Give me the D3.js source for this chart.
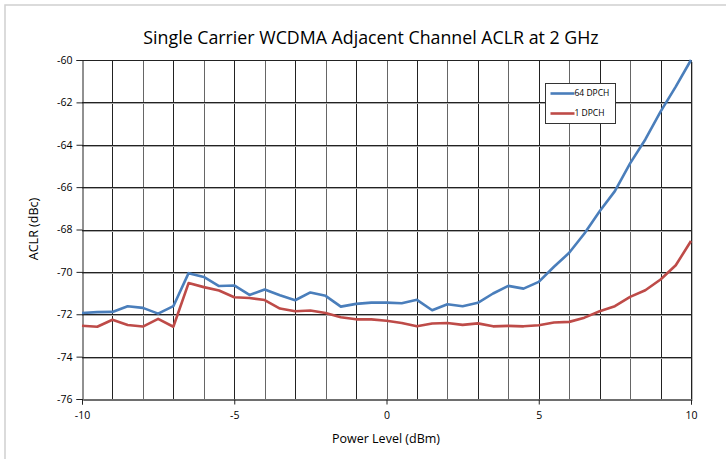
<!DOCTYPE html>
<html>
<head>
<meta charset="utf-8">
<script src="https://cdn.jsdelivr.net/npm/d3@7"></script>
<style>
  body { margin: 0; background: #fff; }
  text { font-family: "Open Sans", "Noto Sans", sans-serif; fill: #000; }
</style>
</head>
<body>
<svg id="chart"></svg>
<script>
// ACLR vs power level
var power = [-10, -9.5, -9, -8.5, -8, -7.5, -7, -6.5, -6, -5.5, -5, -4.5, -4, -3.5, -3, -2.5, -2, -1.5, -1, -0.5,
  0, 0.5, 1, 1.5, 2, 2.5, 3, 3.5, 4, 4.5, 5, 5.5, 6, 6.5, 7, 7.5, 8, 8.5, 9, 9.5, 10];
var dpch64 = [-71.94, -71.9, -71.89, -71.62, -71.7, -71.97, -71.62, -70.06, -70.24, -70.67, -70.64, -71.09, -70.83, -71.1, -71.34, -70.97, -71.13, -71.64, -71.51, -71.45,
  -71.45, -71.48, -71.32, -71.81, -71.53, -71.62, -71.46, -71.02, -70.66, -70.79, -70.47, -69.76, -69.1, -68.19, -67.14, -66.19, -64.88, -63.75, -62.44, -61.26, -60.0];
var dpch1 = [-72.54, -72.59, -72.26, -72.51, -72.58, -72.22, -72.59, -70.53, -70.72, -70.88, -71.2, -71.23, -71.33, -71.73, -71.86, -71.82, -71.94, -72.14, -72.24, -72.24,
  -72.31, -72.41, -72.57, -72.44, -72.41, -72.5, -72.43, -72.57, -72.55, -72.57, -72.52, -72.39, -72.36, -72.16, -71.86, -71.62, -71.18, -70.87, -70.36, -69.69, -68.54];
var series = [
  {name: "64 DPCH", values: dpch64, color: "#4a7ebb"},
  {name: "1 DPCH", values: dpch1, color: "#be4b48"}
];
var xTicks = [-10, -5, 0, 5, 10];
var yTicks = [-76, -74, -72, -70, -68, -66, -64, -62, -60];

var W = 726, H = 459;
var pL = 82, pR = 691, pT = 60, pB = 399;

var svg = d3.select("#chart").attr("width", W).attr("height", H);

// outer chart border (only top and left edges fall inside the picture)
svg.append("rect").attr("x", 5).attr("y", 5).attr("width", 740).attr("height", 470)
  .attr("fill", "#fff").attr("stroke", "#d0d0d0").attr("stroke-width", 1.5);

var x = d3.scaleLinear().domain([-10, 10]).range([pL, pR]);
var y = d3.scaleLinear().domain([-76, -60]).range([pB, pT]);

// plot area shadow
svg.append("rect").attr("x", pL + 2).attr("y", pT + 2).attr("width", pR - pL).attr("height", pB - pT)
  .attr("fill", "#bbb");
svg.append("rect").attr("x", pL).attr("y", pT).attr("width", pR - pL).attr("height", pB - pT)
  .attr("fill", "#fff");

// grid
var g = svg.append("g");
g.selectAll(".vg").data(d3.range(-9, 10)).enter().append("line")
  .attr("x1", function(d) { return Math.round(x(d)) + 0.5; })
  .attr("x2", function(d) { return Math.round(x(d)) + 0.5; })
  .attr("y1", pT).attr("y2", pB)
  .attr("stroke", function(d, i) { return i % 2 ? "#666" : "#222"; });
g.selectAll(".hg").data(yTicks.slice(1, -1)).enter().append("line")
  .attr("x1", pL).attr("x2", pR)
  .attr("y1", function(d) { return Math.round(y(d)) + 1.5; })
  .attr("y2", function(d) { return Math.round(y(d)) + 1.5; })
  .attr("stroke", "#aaa");
g.selectAll(".hg2").data(yTicks.slice(1, -1)).enter().append("line")
  .attr("x1", pL).attr("x2", pR)
  .attr("y1", function(d) { return Math.round(y(d)) + 0.5; })
  .attr("y2", function(d) { return Math.round(y(d)) + 0.5; })
  .attr("stroke", "#222");

// top and right frame
svg.append("line").attr("x1", pL).attr("x2", pR).attr("y1", pT + 0.5).attr("y2", pT + 0.5).attr("stroke", "#222");
svg.append("line").attr("x1", pR + 0.5).attr("x2", pR + 0.5).attr("y1", pT).attr("y2", pB).attr("stroke", "#222");

// axes
var fmt = function(d) { return String(d); };
var yAxis = d3.axisLeft(y).tickValues(yTicks).tickSize(6).tickPadding(4).tickFormat(fmt);
var xAxis = d3.axisBottom(x).tickValues(xTicks).tickSize(5).tickPadding(7).tickFormat(fmt);

var ya = svg.append("g").attr("transform", "translate(" + (pL + 0.5) + ",0)").call(yAxis);
var xa = svg.append("g").attr("transform", "translate(0," + (pB + 0.5) + ")").call(xAxis);
[ya, xa].forEach(function(a) {
  a.attr("font-family", null);
  a.select(".domain").attr("stroke", "#222");
  a.selectAll(".tick line").attr("stroke", "#222");
  a.selectAll("text").style("font-size", "10.5px").attr("fill", "#000");
});

// series lines
var line = d3.line()
  .x(function(d, i) { return x(power[i]); })
  .y(function(d) { return y(d); });

svg.selectAll(".series").data(series).enter().append("path")
  .attr("d", function(d) { return line(d.values); })
  .attr("fill", "none")
  .attr("stroke", function(d) { return d.color; })
  .attr("stroke-width", 2.6)
  .attr("stroke-linejoin", "round");

// titles
svg.append("text").attr("x", 371).attr("y", 44).attr("text-anchor", "middle")
  .style("font-size", "17.8px").text("Single Carrier WCDMA Adjacent Channel ACLR at 2 GHz");
svg.append("text").attr("x", 386).attr("y", 443).attr("text-anchor", "middle")
  .style("font-size", "12.5px").text("Power Level (dBm)");
svg.append("text").attr("transform", "translate(38,229) rotate(-90)").attr("text-anchor", "middle")
  .style("font-size", "12.5px").text("ACLR (dBc)");

// legend
var lg = svg.append("g").attr("transform", "translate(545.5,83.5)");
lg.append("rect").attr("width", 70).attr("height", 40).attr("fill", "#fff").attr("stroke", "#333");
var items = lg.selectAll(".item").data(series).enter().append("g")
  .attr("transform", function(d, i) { return "translate(0," + (10 + i * 20) + ")"; });
items.append("line").attr("x1", 5).attr("x2", 29).attr("stroke", function(d) { return d.color; }).attr("stroke-width", 2.6);
items.append("text").attr("x", 29).attr("dy", "0.35em").style("font-size", "8.5px").text(function(d) { return d.name; });
</script>
</body>
</html>
